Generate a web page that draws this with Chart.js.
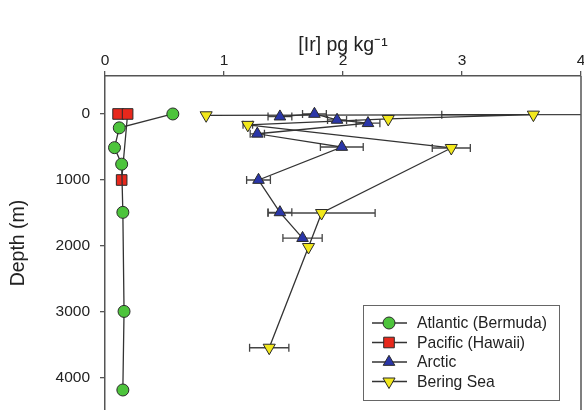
<!DOCTYPE html>
<html>
<head>
<meta charset="utf-8">
<script src="https://cdn.jsdelivr.net/npm/chart.js@4.4.1/dist/chart.umd.min.js"></script>
<style>
  html, body { margin: 0; padding: 0; background: #fff; overflow: hidden; }
  #myChart { display: block; width: 584px; height: 410px; }
</style>
</head>
<body>
<canvas id="myChart" width="584" height="410"></canvas>
<script>
// du lieu
var xTicks = [0, 1, 2, 3, 4];
var depthTicks = [0, 1000, 2000, 3000, 4000];

var atlanticIr = [0.57, 0.12, 0.08, 0.14, 0.15, 0.16, 0.15];
var atlanticDepth = [0, 210, 510, 760, 1490, 2990, 4180];

var pacificIr = [0.11, 0.19, 0.14];
var pacificDepth = [0, 0, 1000];

var arcticIr = [1.47, 1.76, 1.95, 2.21, 1.28, 1.99, 1.29, 1.47, 1.66];
var arcticDepth = [40, 0, 90, 140, 300, 500, 1000, 1490, 1880];
var arcticErr = [0.1, 0.1, 0.08, 0.1, 0.06, 0.18, 0.1, 0.1, 0.165];

var beringIr = [0.85, 3.6, 2.38, 1.2, 2.91, 1.82, 1.71, 1.38];
var beringDepth = [20, 10, 75, 165, 515, 1500, 2015, 3540];
var beringErr = [0, 0.77, 0, 0.04, 0.16, 0.45, 0, 0.165];

var seriesNames = ["Atlantic (Bermuda)", "Pacific (Hawaii)", "Arctic", "Bering Sea"];
var seriesColors = ["#4dc43c", "#e8281c", "#2a36a8", "#f2e81c"];
var seriesStyles = ["circle", "rect", "triangle", "triangle"];
var seriesRotation = [0, 0, 0, 180];
var seriesRadius = [6, 7.5, 6.7, 7];

var FONT = "'Liberation Sans', Arial, sans-serif";
var TXT = "#222";
var AXIS = "#555";

function toPoints(xs, ds) {
    return xs.map(function (x, i) { return { x: x, y: ds[i] }; });
}

function makeSet(i, xs, ds) {
    return {
        label: seriesNames[i],
        data: toPoints(xs, ds),
        showLine: true,
        borderColor: "#333",
        borderWidth: 1.3,
        pointStyle: seriesStyles[i],
        pointRotation: seriesRotation[i],
        pointRadius: seriesRadius[i],
        pointHoverRadius: seriesRadius[i],
        pointBackgroundColor: seriesColors[i],
        pointBorderColor: "#2a2a2a",
        pointBorderWidth: 1
    };
}

var errors = [null, null, arcticErr, beringErr];

// thanh sai so
var errorBars = {
    id: "errorBars",
    beforeDatasetsDraw: function (chart) {
        var ctx = chart.ctx, xs = chart.scales.x, a = chart.chartArea;
        ctx.save();
        ctx.beginPath();
        ctx.rect(a.left, a.top, a.right - a.left, a.bottom - a.top);
        ctx.clip();
        ctx.strokeStyle = "#444";
        ctx.lineWidth = 1.3;
        errors.forEach(function (errs, di) {
            if (!errs) return;
            var pts = chart.getDatasetMeta(di).data;
            var raw = chart.data.datasets[di].data;
            errs.forEach(function (e, j) {
                if (!e) return;
                var y = pts[j].y;
                var x1 = xs.getPixelForValue(raw[j].x - e);
                var x2 = xs.getPixelForValue(raw[j].x + e);
                ctx.beginPath();
                ctx.moveTo(x1, y); ctx.lineTo(x2, y);
                ctx.moveTo(x1, y - 4); ctx.lineTo(x1, y + 4);
                ctx.moveTo(x2, y - 4); ctx.lineTo(x2, y + 4);
                ctx.stroke();
            });
        });
        ctx.restore();
    }
};

// khung ben phai + chu thich
var frameLegend = {
    id: "frameLegend",
    afterDraw: function (chart) {
        var ctx = chart.ctx, a = chart.chartArea;
        ctx.save();
        ctx.strokeStyle = AXIS;
        ctx.lineWidth = 1.5;
        ctx.beginPath();
        ctx.moveTo(a.right, a.top);
        ctx.lineTo(a.right, a.bottom);
        ctx.stroke();

        var bx = 363, by = 305, bw = 196, bh = 95;
        ctx.fillStyle = "#fff";
        ctx.fillRect(bx, by, bw, bh);
        ctx.strokeStyle = "#666";
        ctx.lineWidth = 1;
        ctx.strokeRect(bx + 0.5, by + 0.5, bw, bh);

        ctx.font = "15.7px " + FONT;
        ctx.textBaseline = "middle";
        for (var i = 0; i < 4; i++) {
            var y = by + 18 + i * 19.5;
            ctx.strokeStyle = "#333";
            ctx.lineWidth = 1.3;
            ctx.beginPath();
            ctx.moveTo(bx + 9, y); ctx.lineTo(bx + 44, y);
            ctx.stroke();
            ctx.fillStyle = seriesColors[i];
            ctx.strokeStyle = "#2a2a2a";
            ctx.lineWidth = 1;
            Chart.helpers.drawPoint(ctx, {
                pointStyle: seriesStyles[i],
                rotation: seriesRotation[i],
                radius: seriesRadius[i],
                borderWidth: 1
            }, bx + 26, y);
            ctx.fillStyle = TXT;
            ctx.fillText(seriesNames[i], bx + 54, y + 1);
        }
        ctx.restore();
    }
};

function VeDoThi() {
    new Chart("myChart", {
        type: "scatter",
        data: {
            datasets: [
                makeSet(0, atlanticIr, atlanticDepth),
                makeSet(1, pacificIr, pacificDepth),
                makeSet(2, arcticIr, arcticDepth),
                makeSet(3, beringIr, beringDepth)
            ]
        },
        options: {
            responsive: false,
            animation: false,
            layout: { autoPadding: false, padding: { top: 0, left: 0, right: 3, bottom: 0 } },
            plugins: {
                legend: { display: false },
                tooltip: { enabled: false }
            },
            scales: {
                x: {
                    type: "linear",
                    position: "top",
                    min: 0,
                    max: 4,
                    afterBuildTicks: function (s) { s.ticks = xTicks.map(function (v) { return { value: v }; }); },
                    afterFit: function (s) { s.height = 76; s.paddingLeft = 0; s.paddingRight = 0; },
                    ticks: { font: { family: FONT, size: 15.5 }, color: TXT, padding: 1 },
                    grid: { drawOnChartArea: false, tickLength: 5, color: AXIS, lineWidth: 1.3 },
                    border: { color: AXIS, width: 1.5 },
                    title: {
                        display: true,
                        text: "[Ir] pg kg\u207B\u00B9",
                        font: { family: FONT, size: 19.5 },
                        color: TXT,
                        padding: { top: 34, bottom: 0 }
                    }
                },
                y: {
                    type: "linear",
                    reverse: true,
                    min: -575,
                    max: 4483,
                    afterBuildTicks: function (s) { s.ticks = depthTicks.map(function (v) { return { value: v }; }); },
                    afterFit: function (s) { s.width = 105; s.paddingTop = 0; s.paddingBottom = 0; },
                    ticks: {
                        font: { family: FONT, size: 15.5 },
                        color: TXT,
                        padding: 10,
                        callback: function (v) { return String(v); }
                    },
                    grid: { drawOnChartArea: false, tickLength: 5, color: AXIS, lineWidth: 1.3 },
                    border: { color: AXIS, width: 1.5 },
                    title: {
                        display: true,
                        text: "Depth (m)",
                        font: { family: FONT, size: 19.5 },
                        color: TXT,
                        padding: { top: 7, bottom: 0 }
                    }
                }
            }
        },
        plugins: [errorBars, frameLegend]
    });
}

VeDoThi();
</script>
</body>
</html>
